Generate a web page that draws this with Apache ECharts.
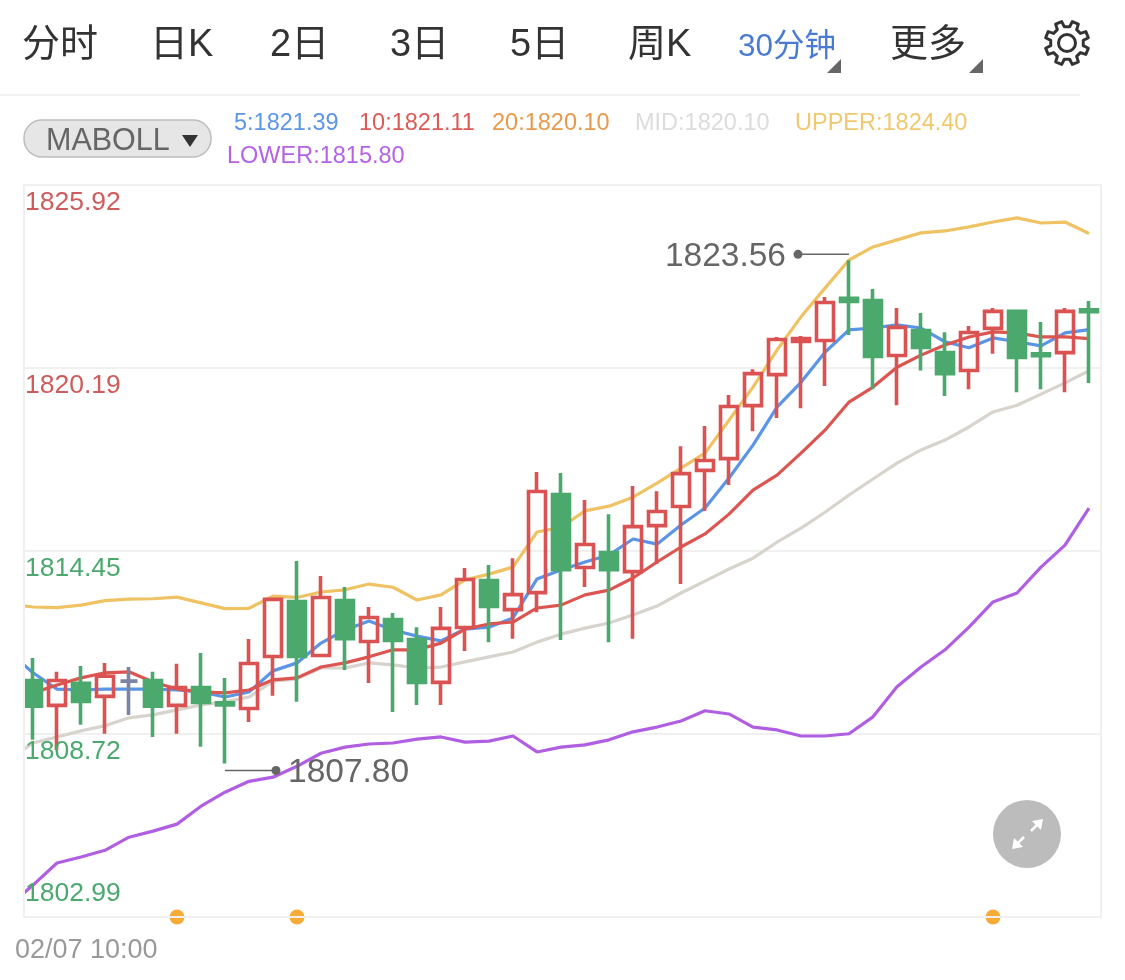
<!DOCTYPE html>
<html><head><meta charset="utf-8">
<style>html,body{margin:0;padding:0;background:#fff}#c{width:1125px;height:980px}</style>
<script src="https://cdn.jsdelivr.net/npm/echarts@6/dist/echarts.min.js"></script>
</head><body><div id="c"></div>
<script>
const tabs = ['分时','日K','2日','3日','5日','周K','30分钟','更多'];
const firstTime = '02/07 10:00';
const indicator = 'MABOLL';
const legendNames = ['5','10','20','MID','UPPER','LOWER'];
const legendValues = ['1821.39','1821.11','1820.10','1820.10','1824.40','1815.80'];
const yTicks = [1802.99,1808.72,1814.45,1820.19,1825.92];
const highMark = 1823.56, lowMark = 1807.80;
// [open, close, low, high]
const candles = [
[1810.40,1809.59,1808.54,1811.10],[1809.62,1810.40,1808.22,1810.67],[1810.31,1809.74,1809.01,1810.85],
[1809.90,1810.53,1808.73,1810.95],[1810.38,1810.38,1809.32,1810.82],[1810.40,1809.59,1808.63,1810.67],
[1809.62,1810.18,1808.73,1810.92],[1810.18,1809.71,1808.32,1811.26],[1809.70,1809.63,1807.80,1810.48],
[1809.52,1810.93,1809.10,1811.70],[1811.15,1812.94,1809.92,1812.98],[1812.87,1811.15,1809.73,1814.14],
[1811.18,1813.00,1811.14,1813.67],[1812.90,1811.71,1810.73,1813.33],[1811.62,1812.37,1810.32,1812.70],
[1812.31,1811.65,1809.41,1812.51],[1811.68,1810.34,1809.63,1812.07],[1810.34,1812.03,1809.63,1812.70],
[1812.06,1813.56,1811.32,1813.92],[1813.53,1812.72,1811.60,1814.02],[1812.62,1813.09,1811.71,1814.23],
[1813.15,1816.32,1812.54,1816.93],[1816.22,1813.87,1811.67,1816.90],[1813.94,1814.66,1813.33,1816.05],
[1814.41,1813.87,1811.60,1815.61],[1813.81,1815.22,1811.71,1816.49],[1815.25,1815.69,1814.05,1816.33],
[1815.85,1816.88,1813.42,1817.74],[1816.98,1817.29,1815.71,1818.37],[1817.35,1818.98,1816.52,1819.34],
[1819.01,1820.01,1818.21,1820.15],[1819.98,1821.08,1818.62,1821.16],[1821.02,1821.11,1818.93,1821.19],
[1821.05,1822.24,1819.62,1822.41],[1822.37,1822.27,1821.22,1823.56],[1822.30,1820.55,1819.52,1822.66],
[1820.58,1821.46,1819.02,1822.07],[1821.36,1820.83,1820.11,1821.91],[1820.67,1820.01,1819.31,1821.31],
[1820.11,1821.30,1819.52,1821.50],[1821.43,1821.96,1820.63,1822.07],[1821.96,1820.52,1819.43,1822.01],
[1820.63,1820.57,1819.52,1821.63],[1820.67,1821.96,1819.43,1822.07],[1822.01,1821.95,1819.72,1822.29]
];
// first entry of each line is the bar just left of the visible window
const ma5 = [1811.29,1810.64,1810.13,1810.10,1810.13,1810.13,1810.13,1810.10,1810.04,1809.88,1810.04,1810.70,1810.95,1811.57,1811.98,1812.26,1811.98,1811.79,1811.64,1812.01,1812.07,1812.36,1813.58,1813.86,1814.11,1814.33,1814.83,1814.67,1815.27,1815.80,1816.74,1817.77,1818.96,1819.74,1820.68,1821.38,1821.44,1821.54,1821.44,1821.01,1820.82,1821.13,1821.01,1820.88,1821.29,1821.39];
const ma10 = [1809.82,1810.01,1810.26,1810.48,1810.64,1810.67,1810.35,1810.13,1810.04,1810.01,1810.10,1810.42,1810.48,1810.82,1810.95,1811.14,1811.36,1811.36,1811.57,1812.01,1812.17,1812.23,1812.67,1812.76,1813.08,1813.23,1813.61,1814.11,1814.58,1814.99,1815.61,1816.36,1816.83,1817.52,1818.24,1819.12,1819.59,1820.21,1820.59,1820.91,1821.16,1821.32,1821.29,1821.16,1821.16,1821.11];
const mid = [1807.94,1808.44,1808.63,1808.82,1808.98,1809.23,1809.32,1809.48,1809.63,1809.73,1809.88,1810.38,1810.45,1810.79,1810.79,1810.95,1810.89,1810.79,1810.82,1810.98,1811.14,1811.29,1811.60,1811.85,1812.04,1812.20,1812.45,1812.73,1813.14,1813.51,1813.89,1814.23,1814.73,1815.17,1815.67,1816.21,1816.71,1817.21,1817.62,1817.93,1818.34,1818.81,1819.02,1819.37,1819.72,1820.10];
const upper = [1812.79,1812.70,1812.68,1812.76,1812.90,1812.95,1812.96,1813.01,1812.83,1812.65,1812.66,1813.04,1813.00,1813.17,1813.24,1813.42,1813.32,1812.92,1813.08,1813.55,1813.73,1813.95,1815.05,1815.20,1815.71,1815.86,1816.14,1816.58,1817.05,1817.52,1818.55,1819.59,1820.75,1821.79,1822.69,1823.57,1823.98,1824.20,1824.42,1824.48,1824.61,1824.76,1824.89,1824.73,1824.76,1824.40];
const lower = [1803.33,1803.99,1804.68,1804.87,1805.08,1805.49,1805.68,1805.90,1806.46,1806.90,1807.24,1807.37,1807.71,1808.12,1808.31,1808.41,1808.44,1808.56,1808.63,1808.47,1808.50,1808.66,1808.16,1808.31,1808.38,1808.54,1808.79,1808.94,1809.13,1809.45,1809.35,1808.94,1808.85,1808.66,1808.66,1808.73,1809.26,1810.20,1810.82,1811.36,1812.07,1812.86,1813.14,1813.95,1814.64,1815.80];
const eventBars = [7,12,41];

const RED='#da5352', GREEN='#4ba96e', DOJI='#7a84a3';
const FONT='"Liberation Sans","Noto Sans CJK SC",sans-serif';
const categories = upper.map((_,i)=>String(i));
const chart = echarts.init(document.getElementById('c'));

const tabX=[22,150,270,390,510,628,738,890];
const legendColors=['#5c96e6','#dc5a56','#e8994a','#dcdcdc','#f0c86e','#b662e6'];
const legendPos=[[234,124],[359,124],[492,124],[635,124],[795,124],[227,157]];
const g=[];
tabs.forEach((t,i)=>{
  const small=t==='30分钟';
  g.push({type:'text',x:tabX[i],y:small?47:46,style:{text:t,font:(small?'31.5px ':'38px ')+FONT,fill:small?'#4a7bd2':'#333',textVerticalAlign:'middle'}});
});
[[841,827],[983,969]].forEach(p=>g.push({type:'polygon',shape:{points:[[p[0],59],[p[0],73],[p[1],73]]},style:{fill:'#666'}}));
const gear=[];
for(let k=0;k<8;k++){
  const a=k*Math.PI/4-Math.PI/8;
  [[-0.23,16.5],[-0.15,22],[0.15,22],[0.23,16.5]].forEach(o=>{
    gear.push([1067+o[1]*Math.cos(a+o[0]),43+o[1]*Math.sin(a+o[0])]);
  });
}
g.push({type:'polygon',shape:{points:gear},style:{fill:'none',stroke:'#333',lineWidth:3,lineJoin:'round'}});
g.push({type:'circle',shape:{cx:1067,cy:43,r:8.5},style:{fill:'none',stroke:'#333',lineWidth:3}});
g.push({type:'line',shape:{x1:0,y1:95,x2:1080,y2:95},style:{stroke:'#f2f2f2',lineWidth:2}});
g.push({type:'rect',shape:{x:24,y:120,width:187,height:37,r:18},style:{fill:'#e6e6e6',stroke:'#bdbdbd',lineWidth:1.5}});
g.push({type:'text',x:46,y:142,style:{text:indicator,font:'30.5px '+FONT,fill:'#666',textVerticalAlign:'middle'}});
g.push({type:'polygon',shape:{points:[[182,135],[198,135],[190,147]]},style:{fill:'#333'}});
legendNames.forEach((n,i)=>g.push({type:'text',x:legendPos[i][0],y:legendPos[i][1],style:{text:n+':'+legendValues[i],font:'23.5px '+FONT,fill:legendColors[i],textVerticalAlign:'middle'}}));
// mask and frame
g.push({type:'rect',z:50,shape:{x:0,y:170,width:24,height:760},style:{fill:'#fff'}});
g.push({type:'rect',z:51,shape:{x:24,y:185,width:1077,height:732},style:{fill:'none',stroke:'#f0f0f0',lineWidth:2}});
g.push({type:'text',x:15,y:951,style:{text:firstTime,font:'27px '+FONT,fill:'#999',textVerticalAlign:'middle'}});
g.push({type:'circle',z:80,shape:{cx:1027,cy:834,r:34},style:{fill:'#bcbcbc'}});
g.push({type:'polygon',z:81,shape:{points:[[1043,819],[1032,821],[1041,830]]},style:{fill:'#fff'}});
g.push({type:'polygon',z:81,shape:{points:[[1012,849],[1023,847],[1014,838]]},style:{fill:'#fff'}});
g.push({type:'line',z:81,shape:{x1:1037,y1:825,x2:1031,y2:831},style:{stroke:'#fff',lineWidth:2.5}});
g.push({type:'line',z:81,shape:{x1:1018,y1:843,x2:1024,y2:837},style:{stroke:'#fff',lineWidth:2.5}});

const line=(name,data,color)=>({name,type:'line',data,z:2,symbol:'none',smooth:false,silent:true,lineStyle:{color,width:3.2}});
const marks=[[35,highMark,-1],[9,lowMark,1]];
const option={
  animation:false,
  backgroundColor:'#fff',
  graphic:g,
  grid:{left:-3,top:185,width:1104,height:732,containLabel:false,outerBoundsMode:'none'},
  xAxis:{type:'category',data:categories,show:false,boundaryGap:true},
  yAxis:[
    {type:'value',position:'left',min:yTicks[0],max:yTicks[4],z:0,axisLine:{show:false},axisTick:{show:false,customValues:yTicks},axisLabel:{show:false,customValues:yTicks},splitLine:{show:true,lineStyle:{color:'#f0f0f0',width:2}}},
    {type:'value',position:'left',min:yTicks[0],max:yTicks[4],z:60,axisLine:{show:false},axisTick:{show:false,customValues:yTicks},splitLine:{show:false},
     axisLabel:{show:true,inside:true,margin:28,align:'left',verticalAlign:'top',verticalAlignMinLabel:'bottom',customValues:yTicks,
       formatter:v=>{const s=(+v).toFixed(2);return v===yTicks[0]?'{m|'+s+'}':(v>1816?'{r|':'{g|')+s+'}';},
       rich:{r:{color:'#cf5c5c',fontSize:26.5,lineHeight:36,fontFamily:FONT},g:{color:'#4ba96e',fontSize:26.5,lineHeight:36,fontFamily:FONT},m:{color:'#4ba96e',fontSize:26.5,lineHeight:46,fontFamily:FONT}}}}
  ],
  series:[
    line('MID',mid,'#d8d3cc'),line('UPPER',upper,'#efc263'),line('LOWER',lower,'#b05fe2'),line('5',ma5,'#5a95e8'),line('10',ma10,'#dc5550'),
    {type:'candlestick',z:3,barWidth:18,silent:true,data:[['-','-','-','-'],...candles],
     itemStyle:{color:'rgba(0,0,0,0)',color0:GREEN,borderColor:RED,borderColor0:GREEN,borderColorDoji:DOJI,borderWidth:3.6}},
    {type:'scatter',z:40,clip:false,silent:true,symbol:'circle',symbolSize:15,data:eventBars.map(k=>[k,yTicks[0]]),itemStyle:{color:'#f5ab35',opacity:1}},
    {type:'custom',z:70,silent:true,clip:false,data:marks,
     encode:{x:0,y:1},
     renderItem:(params,api)=>{
       const p=api.coord([api.value(0),api.value(1)]), dir=api.value(2), up=dir<0;
       const y=p[1]+(up?-6:7), ex=p[0]+dir*47, dx=p[0]+dir*51, tx=p[0]+dir*63;
       return {type:'group',children:[
         {type:'line',shape:{x1:p[0],y1:y,x2:ex,y2:y},style:{stroke:'#666',lineWidth:1.5}},
         {type:'circle',shape:{cx:dx,cy:y,r:4.5},style:{fill:'#666'}},
         {type:'text',x:tx,y:y+2,style:{text:api.value(1).toFixed(2),font:'33.5px '+FONT,fill:'#666',textAlign:up?'right':'left',textVerticalAlign:'middle'}}
       ]};
     }}
  ]
};
chart.setOption(option);
</script></body></html>
